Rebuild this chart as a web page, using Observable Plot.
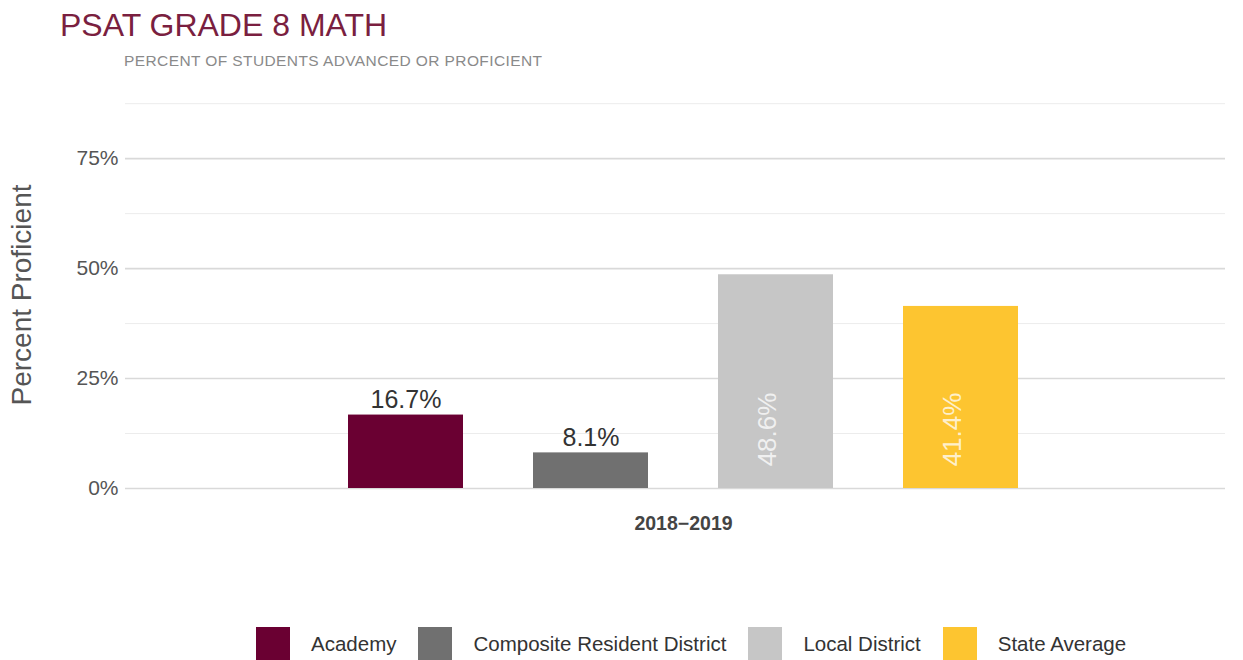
<!DOCTYPE html>
<html><head><meta charset="utf-8">
<script src="https://cdn.jsdelivr.net/npm/d3@7"></script>
<script src="https://cdn.jsdelivr.net/npm/@observablehq/plot@0.6"></script>
<style>
body{margin:0;background:#fff;font-family:"Liberation Sans",Arial,sans-serif;width:1243px;height:660px;overflow:hidden;position:relative}
#title{position:absolute;left:60px;top:7px;font-size:32px;color:#7a1f40;white-space:nowrap}
#subtitle{position:absolute;left:124px;top:52px;font-size:15.5px;color:#8a8a8a;white-space:nowrap;letter-spacing:0.4px}
#chart{position:absolute;left:0;top:80px}
#legend{position:absolute;left:256px;top:627px;display:flex;align-items:center;font-size:20.5px;color:#333;white-space:nowrap}
.sw{width:34px;height:34px;margin-right:21px}
.lb{margin-right:22px}
</style></head><body>
<div id="title"></div>
<div id="subtitle"></div>
<div id="chart"></div>
<div id="legend"></div>
<script>
const titleText = "PSAT GRADE 8 MATH";
const subtitleText = "PERCENT OF STUDENTS ADVANCED OR PROFICIENT";
const yAxisTitle = "Percent Proficient";
const year = "2018\u22122019";
const series = ["Academy", "Composite Resident District", "Local District", "State Average"];
const values = [16.7, 8.1, 48.6, 41.4];
const colors = ["#6a0032", "#707070", "#c6c6c6", "#fdc530"];
const yTicks = [0, 25, 50, 75];
const yMinor = [12.5, 37.5, 62.5, 87.5];

document.getElementById("title").textContent = titleText;
document.getElementById("subtitle").textContent = subtitleText;

const data = series.map((s, i) => ({series: s, value: values[i]}));
const outside = data.filter(d => d.value < 25);
const inside = data.filter(d => d.value >= 25);
const fmt = d => d.value.toFixed(1) + "%";

const chart = Plot.plot({
  width: 1243,
  height: 470,
  marginLeft: 125,
  marginRight: 18,
  marginTop: 21,
  marginBottom: 62,
  style: {fontFamily: "Liberation Sans, Arial, sans-serif", background: "#fff"},
  x: {domain: series, range: [346, 1020], paddingInner: 0.376, paddingOuter: 0, axis: null},
  y: {domain: [0, 88], axis: null},
  color: {domain: series, range: colors},
  marks: [
    Plot.ruleY(yMinor, {stroke: "#ececec", strokeWidth: 1}),
    Plot.ruleY(yTicks, {stroke: "#d9d9d9", strokeWidth: 1.6}),
    Plot.barY(data, {x: "series", y: "value", fill: "series"}),
    Plot.text(outside, {x: "series", y: "value", text: fmt, dy: -15, fontSize: 25, fill: "#333"}),
    Plot.text(inside, {x: "series", text: fmt, frameAnchor: "bottom", dy: -59, rotate: -90, textAnchor: "middle", fontSize: 26, fill: "#ffffff", fillOpacity: 0.75}),
    Plot.axisY(yTicks, {tickSize: 0, tickPadding: 7, tickFormat: d => d + "%", fontSize: 21, fill: "#555", label: null}),
    Plot.text([yAxisTitle], {frameAnchor: "left", dx: -103, rotate: -90, textAnchor: "middle", fontSize: 28, fill: "#555"}),
    Plot.text([year], {frameAnchor: "bottom", dx: 8, dy: 41, fontSize: 19.5, fontWeight: "bold", fill: "#444"})
  ]
});
document.getElementById("chart").appendChild(chart);

const legend = document.getElementById("legend");
series.forEach((s, i) => {
  const sw = document.createElement("div");
  sw.className = "sw";
  sw.style.background = colors[i];
  const lb = document.createElement("div");
  lb.className = "lb";
  lb.textContent = s;
  legend.appendChild(sw);
  legend.appendChild(lb);
});
</script>
</body></html>
